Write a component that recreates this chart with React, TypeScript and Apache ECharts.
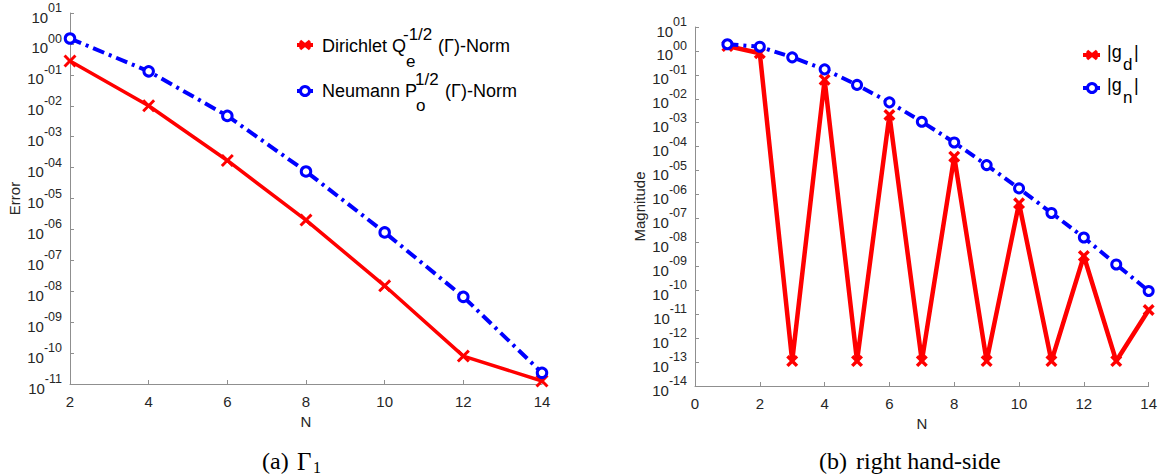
import React, { useEffect, useRef } from 'react';
import * as echarts from 'echarts';

// ---- data ----
const leftN = [2, 4, 6, 8, 10, 12, 14];
const dirichletErr = [0.28, 1.0e-2, 1.7e-4, 2.0e-6, 1.5e-8, 8.0e-11, 1.25e-11];
const neumannErr = [1.5, 0.13, 4.7e-3, 7.5e-5, 8.0e-7, 6.6e-9, 2.3e-11];

const rightN = [1, 2, 3, 4, 5, 6, 7, 8, 9, 10, 11, 12, 13, 14];
const gdMag = [1.6, 0.8, 1.1e-13, 0.062, 1.1e-13, 2.1e-3, 1.1e-13, 3.8e-5, 1.1e-13, 4.3e-7, 1.1e-13, 2.7e-9, 1.1e-13, 1.5e-11];
const gnMag = [1.9, 1.5, 0.54, 0.17, 0.038, 7.1e-3, 1.1e-3, 1.5e-4, 1.7e-5, 1.8e-6, 1.7e-7, 1.6e-8, 1.2e-9, 9.3e-11];

const leftTitles = { x: 'N', y: 'Error' };
const rightTitles = { x: 'N', y: 'Magnitude' };

const SANS = '"Liberation Sans", Arial, Helvetica, sans-serif';
const SERIF = '"Liberation Serif", "Times New Roman", serif';
const AXIS = '#8f8f8f';
const TXT = '#262626';
const RED = '#ff0000';
const BLUE = '#0000ff';

const CROSS = 'path://M0,1.6 L1.6,0 L5,3.4 L8.4,0 L10,1.6 L6.6,5 L10,8.4 L8.4,10 L5,6.6 L1.6,10 L0,8.4 L3.4,5 Z';
const CROSS_BOLD = 'path://M0,2 L2,0 L5,3 L8,0 L10,2 L7,5 L10,8 L8,10 L5,7 L2,10 L0,8 L3,5 Z';

function expLabel(v: number) {
  const e = Math.round(Math.log10(v));
  const s = (e < 0 ? '-' : '') + String(Math.abs(e)).padStart(2, '0');
  return `{b|10}{s|${s}}`;
}

const yLabel = {
  formatter: expLabel,
  margin: 8,
  color: TXT,
  fontFamily: SANS,
  rich: {
    b: { fontSize: 15, fontFamily: SANS, color: TXT, padding: [8, 0, 0, 0] },
    s: { fontSize: 12.5, fontFamily: SANS, color: TXT, padding: [0, 0, 10, 0] },
  },
};

const axisCommon = {
  axisLine: { show: true, lineStyle: { color: AXIS, width: 1 } },
  axisTick: { show: true, inside: true, length: 4, lineStyle: { color: AXIS } },
  splitLine: { show: false },
  minorTick: { show: false },
};

function txt(x: number, y: number, text: string, size: number, family = SANS, fill = '#000') {
  return {
    type: 'text',
    x,
    y,
    style: {
      text,
      fill,
      fontSize: size,
      fontFamily: family,
      textAlign: 'left',
      textVerticalAlign: 'middle',
      verticalAlign: 'middle',
    },
  };
}

function legendCross(cx: number, cy: number) {
  return [
    { type: 'line', shape: { x1: cx - 5, y1: cy - 4, x2: cx + 5, y2: cy + 4 }, style: { stroke: RED, lineWidth: 3.5 } },
    { type: 'line', shape: { x1: cx - 5, y1: cy + 4, x2: cx + 5, y2: cy - 4 }, style: { stroke: RED, lineWidth: 3.5 } },
  ];
}

function legendLine(x1: number, x2: number, y: number, color: string) {
  return { type: 'line', shape: { x1, y1: y, x2, y2: y }, style: { stroke: color, lineWidth: 4 } };
}

function legendCircle(cx: number, cy: number) {
  return { type: 'circle', shape: { cx, cy, r: 4.5 }, style: { fill: '#fff', stroke: BLUE, lineWidth: 3 } };
}

export default function App() {
  const ref = useRef<HTMLDivElement>(null);

  useEffect(() => {
    document.body.style.margin = '0';
    if (!ref.current) return;
    const chart = echarts.init(ref.current, undefined, { renderer: 'svg' });

    const option: any = {
      animation: false,
      backgroundColor: '#ffffff',
      grid: [
        { left: 70, top: 13, width: 472, height: 371 },
        { left: 695, top: 27, width: 456, height: 359 },
      ],
      xAxis: [
        {
          gridIndex: 0, type: 'value', min: 2, max: 14, interval: 2,
          name: leftTitles.x, nameLocation: 'middle', nameGap: 28,
          nameTextStyle: { fontSize: 15, color: TXT, fontFamily: SANS },
          axisLabel: { fontSize: 15, color: TXT, fontFamily: SANS, margin: 10 },
          ...axisCommon,
        },
        {
          gridIndex: 1, type: 'value', min: 0, max: 14, interval: 2,
          name: rightTitles.x, nameLocation: 'middle', nameGap: 27,
          nameTextStyle: { fontSize: 15, color: TXT, fontFamily: SANS },
          axisLabel: { fontSize: 15, color: TXT, fontFamily: SANS, margin: 10 },
          ...axisCommon,
        },
      ],
      yAxis: [
        {
          gridIndex: 0, type: 'log', logBase: 10, min: 1e-11, max: 10, interval: 1,
          name: leftTitles.y, nameLocation: 'middle', nameGap: 48,
          nameTextStyle: { fontSize: 15, color: TXT, fontFamily: SANS },
          axisLabel: yLabel,
          ...axisCommon,
        },
        {
          gridIndex: 1, type: 'log', logBase: 10, min: 1e-14, max: 10, interval: 1,
          name: rightTitles.y, nameLocation: 'middle', nameGap: 48,
          nameTextStyle: { fontSize: 15, color: TXT, fontFamily: SANS },
          axisLabel: yLabel,
          ...axisCommon,
        },
      ],
      series: [
        {
          type: 'line', xAxisIndex: 0, yAxisIndex: 0,
          data: leftN.map((n, i) => [n, dirichletErr[i]]),
          lineStyle: { color: RED, width: 3.5 },
          itemStyle: { color: RED },
          symbol: CROSS, symbolSize: 13,
        },
        {
          type: 'line', xAxisIndex: 0, yAxisIndex: 0,
          data: leftN.map((n, i) => [n, neumannErr[i]]),
          lineStyle: { color: BLUE, width: 4, type: [12, 5, 3, 5] },
          itemStyle: { color: '#ffffff', borderColor: BLUE, borderWidth: 3 },
          symbol: 'circle', symbolSize: 9.5,
        },
        {
          type: 'line', xAxisIndex: 1, yAxisIndex: 1,
          data: rightN.map((n, i) => [n, gdMag[i]]),
          lineStyle: { color: RED, width: 4.5 },
          itemStyle: { color: RED },
          symbol: CROSS_BOLD, symbolSize: 12,
        },
        {
          type: 'line', xAxisIndex: 1, yAxisIndex: 1,
          data: rightN.map((n, i) => [n, gnMag[i]]),
          lineStyle: { color: BLUE, width: 4, type: [11, 5, 3, 5] },
          itemStyle: { color: '#ffffff', borderColor: BLUE, borderWidth: 3 },
          symbol: 'circle', symbolSize: 9,
        },
      ],
      graphic: [
        // left legend
        legendLine(297, 313, 45, RED),
        ...legendCross(305, 45),
        txt(322, 46, 'Dirichlet Q', 18),
        txt(403, 34, '-1/2', 17),
        txt(406, 61, 'e', 17),
        txt(438, 46, '(Γ)-Norm', 18),
        legendLine(297, 313, 91, BLUE),
        legendCircle(305, 91),
        txt(322, 91, 'Neumann P', 18),
        txt(415, 79, '1/2', 17),
        txt(416, 105, 'o', 17),
        txt(445, 91, '(Γ)-Norm', 18),
        // right legend
        legendLine(1083, 1100, 55, RED),
        ...legendCross(1092, 55),
        txt(1107, 52, '|g', 18),
        txt(1123, 64, 'd', 17),
        txt(1134, 52, '|', 18),
        legendLine(1083, 1100, 88, BLUE),
        legendCircle(1092, 88),
        txt(1107, 85, '|g', 18),
        txt(1123, 97, 'n', 17),
        txt(1134, 85, '|', 18),
        // captions
        txt(262, 461, '(a)', 24, SERIF),
        txt(297, 461, 'Γ', 25, SERIF),
        txt(313, 467, '1', 16, SERIF),
        txt(819, 461, '(b)', 24, SERIF),
        txt(856, 461, 'right hand-side', 24, SERIF),
      ],
    };

    chart.setOption(option);
    return () => chart.dispose();
  }, []);

  return (
    <div
      ref={ref}
      style={{ position: 'absolute', left: 0, top: 0, width: 1160, height: 476, background: '#fff' }}
    />
  );
}
